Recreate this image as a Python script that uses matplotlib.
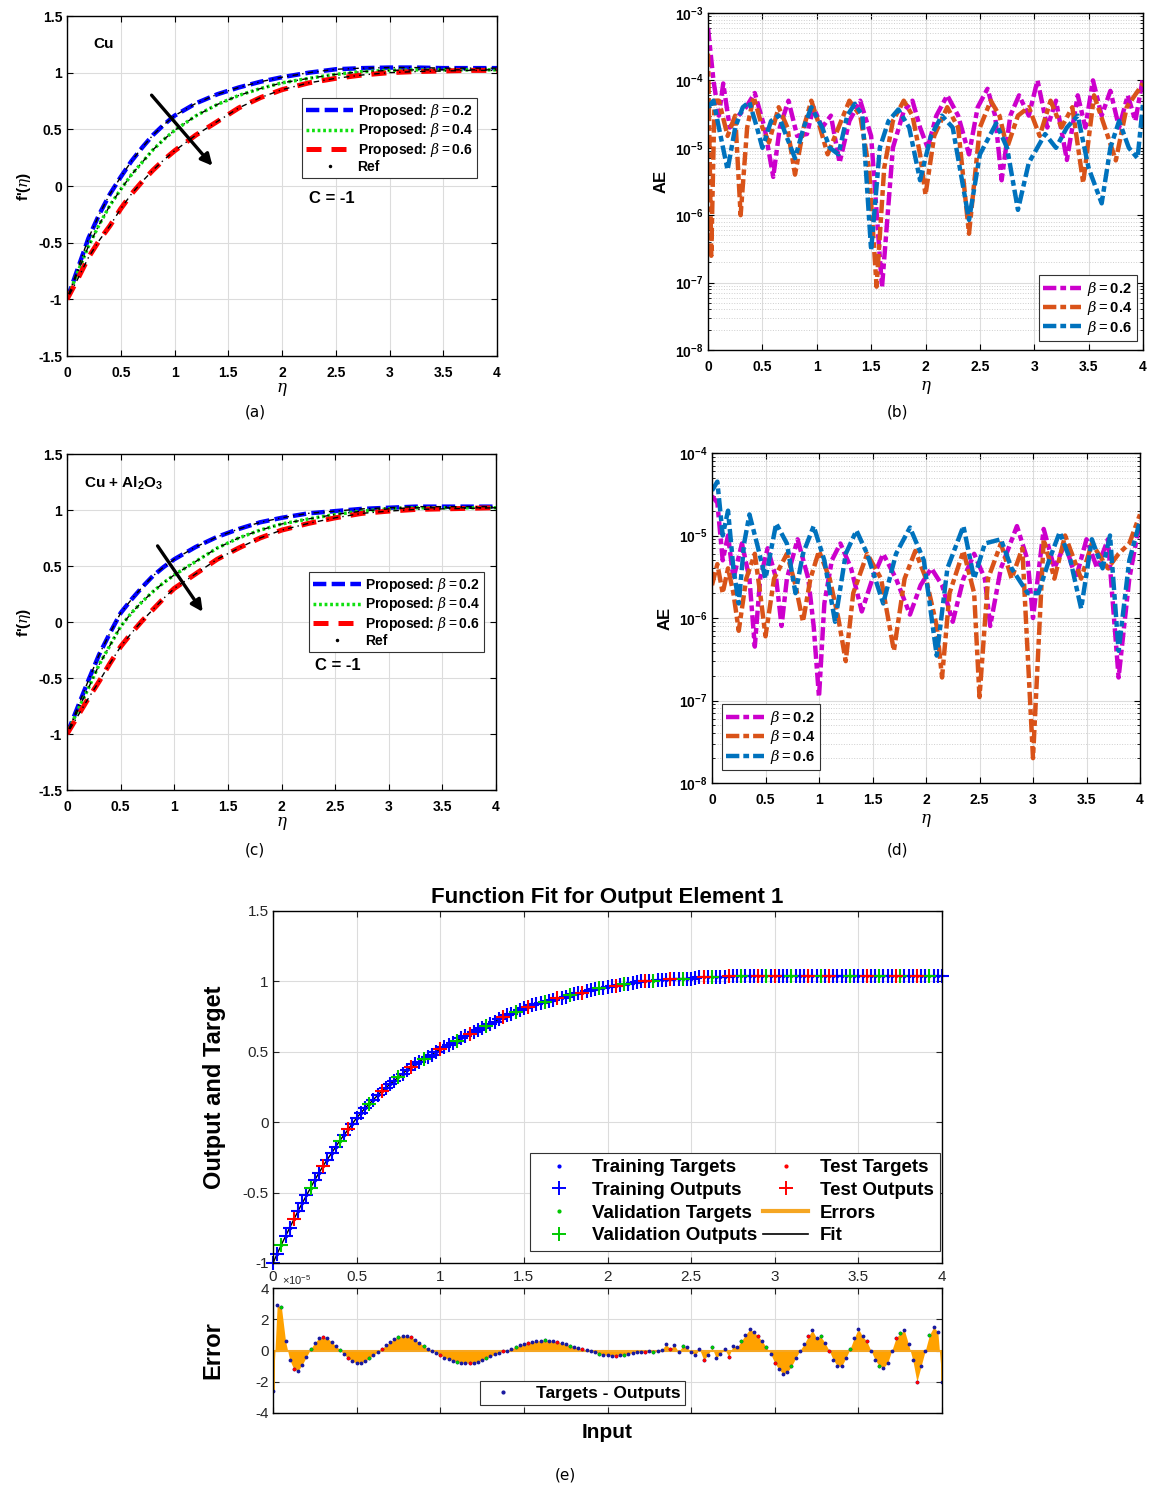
import matplotlib
matplotlib.use('Agg')
import matplotlib.pyplot as plt
import numpy as np
from matplotlib.lines import Line2D
from matplotlib.ticker import LogLocator, NullFormatter

plt.rcParams['font.family'] = ['Liberation Sans', 'DejaVu Sans']
plt.rcParams['mathtext.fontset'] = 'custom'
plt.rcParams['mathtext.rm'] = 'Liberation Sans'
plt.rcParams['mathtext.bf'] = 'Liberation Sans:bold'
plt.rcParams['mathtext.it'] = 'DejaVu Serif:italic'

# ---------------- data ----------------
# (a) Cu, C = -1
a_eta = [0, 0.1, 0.2, 0.3, 0.4, 0.5, 0.6, 0.7, 0.8, 0.9, 1.0, 1.2, 1.4, 1.6, 1.8,
         2.0, 2.25, 2.5, 2.75, 3.0, 3.25, 3.5, 3.75, 4.0]
a_b02 = [-1, -0.73, -0.46, -0.25, -0.07, 0.08, 0.22, 0.34, 0.45, 0.54, 0.62, 0.73, 0.81,
         0.87, 0.92, 0.96, 1.0, 1.03, 1.04, 1.045, 1.045, 1.04, 1.04, 1.04]
a_b04 = [-1, -0.76, -0.53, -0.34, -0.17, -0.03, 0.1, 0.21, 0.32, 0.41, 0.49, 0.62, 0.72,
         0.8, 0.86, 0.91, 0.95, 0.985, 1.01, 1.02, 1.025, 1.025, 1.025, 1.025]
a_b06 = [-1, -0.82, -0.63, -0.48, -0.35, -0.2, -0.07, 0.04, 0.14, 0.23, 0.31, 0.45, 0.57,
         0.69, 0.78, 0.85, 0.91, 0.95, 0.98, 1.0, 1.01, 1.015, 1.02, 1.02]

# (c) Cu + Al2O3, C = -1
c_b02 = [-1, -0.76, -0.52, -0.29, -0.1, 0.08, 0.2, 0.31, 0.41, 0.49, 0.56, 0.67, 0.76,
         0.83, 0.89, 0.93, 0.97, 0.99, 1.01, 1.02, 1.03, 1.03, 1.03, 1.03]
c_b04 = [-1, -0.79, -0.59, -0.38, -0.21, -0.04, 0.08, 0.18, 0.27, 0.35, 0.42, 0.54, 0.66,
         0.75, 0.82, 0.875, 0.92, 0.96, 0.99, 1.01, 1.02, 1.02, 1.02, 1.02]
c_b06 = [-1, -0.84, -0.68, -0.53, -0.37, -0.22, -0.1, 0.01, 0.11, 0.21, 0.30, 0.43, 0.56,
         0.66, 0.75, 0.82, 0.88, 0.93, 0.97, 0.99, 1.005, 1.01, 1.015, 1.02]

# (b) absolute error, Cu
b_eta_02 = [0, 0.05, 0.1, 0.14, 0.2, 0.28, 0.35, 0.43, 0.52, 0.6, 0.66, 0.74, 0.82, 0.91,
            0.97, 1.05, 1.13, 1.21, 1.3, 1.4, 1.5, 1.6, 1.7, 1.8, 1.88, 1.95, 2.02, 2.1,
            2.2, 2.3, 2.4, 2.48, 2.57, 2.64, 2.7, 2.78, 2.86, 2.95, 3.03, 3.12, 3.2, 3.3,
            3.4, 3.47, 3.54, 3.62, 3.7, 3.78, 3.86, 3.93, 4.0]
b_ae_02 = [6e-4, 1e-4, 3e-5, 9e-5, 2e-5, 3e-5, 4e-5, 6.5e-5, 2e-5, 3.7e-6, 2e-5, 5e-5,
           1.5e-5, 1.6e-5, 4e-5, 2e-5, 3e-5, 6e-6, 2.5e-5, 5e-5, 1.5e-5, 8.5e-8, 1e-5,
           3.5e-5, 5e-5, 2e-5, 1e-5, 3e-5, 6e-5, 3e-5, 8e-6, 4e-5, 7.5e-5, 3e-5, 3.3e-6,
           3e-5, 6e-5, 3e-5, 1e-4, 2e-5, 5e-5, 6.6e-6, 6e-5, 2e-5, 1e-4, 3e-5, 7e-5, 2e-5,
           6e-5, 2.5e-5, 1.1e-4]
b_eta_04 = [0, 0.03, 0.06, 0.1, 0.18, 0.25, 0.3, 0.36, 0.42, 0.5, 0.56, 0.65, 0.73, 0.8,
            0.88, 0.95, 1.03, 1.1, 1.2, 1.3, 1.4, 1.48, 1.55, 1.62, 1.7, 1.8, 1.88, 1.95,
            2.0, 2.08, 2.2, 2.3, 2.4, 2.5, 2.6, 2.68, 2.75, 2.85, 2.95, 3.05, 3.15, 3.25,
            3.35, 3.45, 3.55, 3.65, 3.75, 3.85, 4.0]
b_ae_04 = [2.5e-4, 2.5e-7, 5e-5, 5e-5, 1.5e-5, 3e-5, 1e-6, 2e-5, 5.7e-5, 2e-5, 1.2e-5,
           4e-5, 2e-5, 4e-6, 2e-5, 5e-5, 2e-5, 8e-6, 2e-5, 5e-5, 3e-5, 5e-6, 8.7e-8, 5e-6,
           2.5e-5, 5e-5, 3e-5, 8e-6, 2e-6, 1.5e-5, 4e-5, 2e-5, 5.3e-7, 2e-5, 5e-5, 3e-5,
           1e-5, 3e-5, 4e-5, 1.5e-5, 5e-5, 2e-5, 4e-5, 3e-6, 6e-5, 2e-5, 6.5e-6, 4e-5, 9e-5]
b_eta_06 = [0, 0.05, 0.1, 0.18, 0.25, 0.32, 0.38, 0.45, 0.5, 0.58, 0.65, 0.72, 0.8, 0.88,
            0.95, 1.05, 1.12, 1.2, 1.28, 1.35, 1.42, 1.5, 1.58, 1.66, 1.75, 1.85, 1.95,
            2.05, 2.15, 2.25, 2.4, 2.5, 2.65, 2.75, 2.85, 2.95, 3.1, 3.2, 3.3, 3.4, 3.5,
            3.62, 3.7, 3.78, 3.87, 3.95, 4.0]
b_ae_06 = [4e-5, 5e-5, 2e-5, 4.7e-6, 2e-5, 4e-5, 4.8e-5, 2e-5, 1e-5, 2.5e-5, 3e-5,
           1.5e-5, 7e-6, 2e-5, 4e-5, 2e-5, 1e-5, 8e-6, 3e-5, 4.5e-5, 3e-5, 3e-7, 1e-5,
           2.5e-5, 3.7e-5, 2e-5, 3.3e-6, 1.5e-5, 3e-5, 2e-5, 8.5e-7, 8e-6, 2.3e-5, 1e-5,
           1.2e-6, 6e-6, 1.6e-5, 1e-5, 2e-5, 3e-5, 5e-6, 1.5e-6, 1e-5, 2.5e-5, 1e-5, 7e-6,
           4.5e-5]

# (d) absolute error, Cu + Al2O3
d_eta_02 = [0, 0.05, 0.1, 0.15, 0.2, 0.28, 0.35, 0.4, 0.45, 0.52, 0.6, 0.65, 0.7, 0.8,
            0.9, 0.95, 1.0, 1.05, 1.12, 1.2, 1.3, 1.4, 1.5, 1.6, 1.72, 1.85, 1.95, 2.05,
            2.15, 2.25, 2.35, 2.45, 2.55, 2.6, 2.7, 2.85, 2.95, 3.0, 3.1, 3.2, 3.3, 3.4,
            3.5, 3.6, 3.7, 3.8, 3.9, 4.0]
d_ae_02 = [3e-5, 2.5e-5, 5e-6, 1e-5, 3e-6, 8e-6, 3e-6, 4.5e-7, 3e-6, 7e-6, 3e-6, 8e-7,
           3e-6, 9e-6, 3e-6, 8e-7, 1.1e-7, 1.5e-6, 5e-6, 8e-6, 4e-6, 1.2e-6, 3e-6, 6e-6,
           3e-6, 1.1e-6, 2.5e-6, 4e-6, 2.5e-6, 9e-7, 3e-6, 6e-6, 3e-6, 8e-7, 4e-6, 1.3e-5,
           5e-6, 1e-6, 1.2e-5, 4e-6, 8e-6, 3e-6, 9e-6, 4e-6, 9e-6, 1.9e-7, 3e-6, 1.5e-5]
d_eta_04 = [0, 0.05, 0.1, 0.15, 0.2, 0.25, 0.32, 0.4, 0.45, 0.5, 0.58, 0.7, 0.78, 0.85,
            0.92, 1.0, 1.1, 1.18, 1.25, 1.32, 1.45, 1.58, 1.7, 1.8, 1.9, 2.0, 2.1, 2.15,
            2.22, 2.35, 2.45, 2.5, 2.58, 2.7, 2.8, 2.9, 3.0, 3.1, 3.2, 3.3, 3.45, 3.55,
            3.7, 3.8, 3.9, 4.0]
d_ae_04 = [2.5e-6, 4.5e-6, 2e-6, 4e-6, 2e-6, 7e-7, 3e-6, 6e-6, 2e-6, 6e-7, 3e-6, 6e-6,
           2.5e-6, 9e-7, 3e-6, 6.5e-6, 3e-6, 1e-6, 3e-7, 2e-6, 6e-6, 3e-6, 4e-7, 3e-6,
           6.5e-6, 3e-6, 8e-7, 1.9e-7, 2e-6, 6.5e-6, 2e-6, 1.1e-7, 3e-6, 8e-6, 3e-6, 7e-6,
           2e-8, 9e-6, 3e-6, 1e-5, 3e-6, 8e-6, 4e-6, 6e-6, 8e-6, 1.8e-5]
d_eta_06 = [0, 0.05, 0.1, 0.15, 0.2, 0.25, 0.3, 0.35, 0.42, 0.5, 0.6, 0.7, 0.78, 0.85,
            0.95, 1.05, 1.15, 1.25, 1.35, 1.45, 1.6, 1.72, 1.85, 1.98, 2.1, 2.2, 2.35,
            2.45, 2.55, 2.7, 2.8, 2.95, 3.05, 3.15, 3.25, 3.35, 3.45, 3.55, 3.65, 3.72,
            3.8, 3.9, 4.0]
d_ae_06 = [3.5e-5, 4.5e-5, 1e-5, 2e-5, 4e-6, 1.5e-6, 8e-6, 1.8e-5, 8e-6, 3e-6, 1.4e-5,
           8e-6, 2e-6, 6e-6, 1.3e-5, 5e-6, 9e-7, 6e-6, 1.15e-5, 6e-6, 1.5e-6, 6e-6,
           1.25e-5, 5e-6, 3.5e-7, 4e-6, 1.3e-5, 3e-6, 8e-6, 9e-6, 4e-6, 2e-6, 2e-6, 5e-6,
           1.1e-5, 5e-6, 1.3e-6, 9e-6, 4e-6, 1e-5, 4e-7, 5e-6, 1.5e-5]

# (e) network function fit: outputs on an even input grid 0..4 (step 0.025)
e_f = [-1.0, -0.935, -0.87, -0.81, -0.75, -0.69, -0.63, -0.575, -0.52, -0.465,
       -0.41, -0.36, -0.31, -0.265, -0.22, -0.175, -0.13, -0.09, -0.05, -0.01,
       0.03, 0.065, 0.1, 0.13, 0.16, 0.19, 0.22, 0.245, 0.27, 0.295,
       0.32, 0.345, 0.37, 0.39, 0.41, 0.43, 0.45, 0.465, 0.48, 0.5,
       0.52, 0.535, 0.55, 0.565, 0.58, 0.595, 0.61, 0.625, 0.64, 0.655,
       0.67, 0.685, 0.7, 0.715, 0.73, 0.745, 0.76, 0.77, 0.78, 0.795,
       0.81, 0.82, 0.83, 0.84, 0.85, 0.855, 0.86, 0.87, 0.88, 0.885,
       0.89, 0.9, 0.91, 0.915, 0.92, 0.93, 0.94, 0.945, 0.95, 0.955,
       0.96, 0.965, 0.97, 0.975, 0.98, 0.985, 0.99, 0.995, 1.0, 1.0,
       1.0, 1.005, 1.01, 1.01, 1.01, 1.015, 1.02, 1.02, 1.02, 1.02,
       1.02, 1.025, 1.03, 1.03, 1.03, 1.03, 1.03, 1.03, 1.03, 1.035,
       1.04, 1.04, 1.04, 1.04, 1.04, 1.04, 1.04, 1.04, 1.04, 1.04,
       1.04, 1.04, 1.04, 1.04, 1.04, 1.04, 1.04, 1.04, 1.04, 1.04,
       1.04, 1.04, 1.04, 1.04, 1.04, 1.04, 1.04, 1.04, 1.04, 1.04,
       1.04, 1.04, 1.04, 1.04, 1.04, 1.04, 1.04, 1.04, 1.04, 1.04,
       1.04, 1.04, 1.04, 1.04, 1.04, 1.04, 1.04, 1.04, 1.04, 1.04,
       1.04]
# data split per sample: T = training, V = validation, S = test
e_split = ("TTVTTSTTTV" "TTSTTTVTST" "TTTVTTSTTT" "VTTSTTVTTT"
           "STTTVTTSTT" "TVTTTSTTVT" "TSTTTVTTST" "TVTTSTTTVT"
           "TTSTVTTTTS" "TVTTTSTTVT" "TTTSTVTTTS" "TTVTTTSTVT"
           "STTTVTTTST" "TVTSTTTTVT" "TTSTTVTTTS" "VTTTSTTVTT" "T")
# errors (x 1e-5) on the same grid
e_err = [-2.6, 2.9, 2.8, 0.6, -0.6, -1.2, -1.3, -0.9, -0.4, 0.1,
         0.5, 0.8, 0.85, 0.8, 0.55, 0.3, 0.05, -0.25, -0.5, -0.7,
         -0.8, -0.8, -0.7, -0.5, -0.3, -0.1, 0.1, 0.35, 0.55, 0.75,
         0.88, 0.95, 0.93, 0.85, 0.7, 0.5, 0.3, 0.1, 0.0, -0.15,
         -0.3, -0.45, -0.55, -0.65, -0.72, -0.78, -0.8, -0.8, -0.78, -0.72,
         -0.62, -0.5, -0.38, -0.25, -0.15, -0.05, 0.0, 0.1, 0.22, 0.33,
         0.42, 0.5, 0.56, 0.6, 0.63, 0.65, 0.63, 0.6, 0.55, 0.48,
         0.4, 0.32, 0.23, 0.15, 0.08, 0.02, -0.05, -0.12, -0.2, -0.26,
         -0.3, -0.32, -0.32, -0.3, -0.26, -0.2, -0.15, -0.1, -0.08, -0.1,
         -0.05, -0.12, -0.05, 0.05, 0.4, 0.1, 0.35, -0.1, 0.3, 0.2,
         -0.1, -0.3, 0.1, -0.6, -0.3, 0.2, -0.5, -0.2, 0.1, -0.4,
         0.3, 0.2, 0.6, 1.0, 1.35, 1.2, 0.9, 0.6, 0.2, -0.2,
         -0.8, -1.2, -1.5, -1.4, -1.0, -0.5, 0.0, 0.4, 0.9, 1.3,
         0.8, 0.9, 0.5, 0.0, -0.6, -1.0, -1.0, -0.5, 0.1, 0.8,
         1.4, 0.9, 0.6, 0.0, -0.6, -1.0, -1.1, -0.8, 0.0, 0.8,
         1.1, 1.3, 0.4, -0.6, -2.0, -1.0, 0.0, 1.0, 1.5, 1.2,
         -2.0]

# ---------------- figure ----------------
W, H = 1153, 1486
fig = plt.figure(figsize=(W / 100, H / 100), dpi=100)


def px_axes(x0, y0, x1, y1):
    return fig.add_axes([x0 / W, 1 - y1 / H, (x1 - x0) / W, (y1 - y0) / H])


def matlab_look(ax, bold=True, size=10):
    ax.tick_params(which='both', direction='in', top=True, right=True, labelsize=size)
    ax.tick_params(which='major', length=4, width=0.8)
    ax.tick_params(which='minor', length=2, width=0.6)
    ax.tick_params(axis='x', pad=7)
    if bold:
        for lab in ax.get_xticklabels() + ax.get_yticklabels():
            lab.set_fontweight('bold')
    ax.grid(True, which='major', color='#dcdcdc', lw=0.8)
    ax.set_axisbelow(True)
    for s in ax.spines.values():
        s.set_linewidth(1.0)


def velocity_panel(rect, b02, b04, b06, text, arrow, leg_anchor, text_pos, c_pos):
    ax = px_axes(*rect)
    ax.plot(a_eta, b02, color='#0000ff', lw=3.2, dashes=(3, 1.2),
            label=r'Proposed: $\beta=$0.2')
    ax.plot(a_eta, b04, color='#10e010', lw=2.5, dashes=(0.8, 0.8),
            label=r'Proposed: $\beta=$0.4')
    ax.plot(a_eta, b06, color='#ff0000', lw=3.6, dashes=(3, 2),
            label=r'Proposed: $\beta=$0.6')
    for ys in (b02, b04, b06):
        ax.plot(a_eta, ys, color='k', lw=1.0, dashes=(1, 3, 4, 3))
    ax.set_xlim(0, 4)
    ax.set_ylim(-1.5, 1.5)
    ax.set_xticks([0, 0.5, 1, 1.5, 2, 2.5, 3, 3.5, 4])
    ax.set_xticklabels(['0', '0.5', '1', '1.5', '2', '2.5', '3', '3.5', '4'])
    ax.set_yticks([-1.5, -1, -0.5, 0, 0.5, 1, 1.5])
    ax.set_yticklabels(['-1.5', '-1', '-0.5', '0', '0.5', '1', '1.5'])
    matlab_look(ax)
    ax.annotate('', xy=arrow[1], xytext=arrow[0],
                arrowprops=dict(arrowstyle='-|>', lw=2.4, color='k', mutation_scale=17))
    ax.text(text_pos[0], text_pos[1], text, fontsize=11, fontweight='bold')
    ax.text(c_pos[0], c_pos[1], 'C = -1', fontsize=12, fontweight='bold')
    handles, labels = ax.get_legend_handles_labels()
    handles.append(Line2D([], [], ls='none', marker='.', color='k', ms=3))
    labels.append('Ref')
    leg = ax.legend(handles, labels, loc='upper right', bbox_to_anchor=leg_anchor,
                    borderaxespad=0, fancybox=False, edgecolor='#333333', framealpha=1,
                    handlelength=3.4, borderpad=0.3, labelspacing=0.1, handletextpad=0.3,
                    prop={'weight': 'bold', 'size': 10})
    leg.get_frame().set_linewidth(0.8)
    ax.set_xlabel(r'$\eta$', fontsize=12, labelpad=1)
    ax.set_ylabel(r"f'($\eta$)", fontsize=11, fontweight='bold', labelpad=4)
    return ax


velocity_panel((67, 16, 497, 356), a_b02, a_b04, a_b06, 'Cu',
               ((0.77, 0.82), (1.37, 0.16)), (0.953, 0.759), (0.25, 1.22), (2.25, -0.15))
velocity_panel((67, 454, 496, 790), c_b02, c_b04, c_b06, r'Cu + Al$_\mathbf{2}$O$_\mathbf{3}$',
               ((0.83, 0.70), (1.28, 0.07)), (0.972, 0.649), (0.16, 1.2), (2.31, -0.43))

ae_colors = ['#cc00cc', '#D95319', '#0072BD']
ae_labels = [r'$\beta=$0.2', r'$\beta=$0.4', r'$\beta=$0.6']


def error_panel(rect, series, ylo, yhi, leg_loc, leg_anchor):
    ax = px_axes(*rect)
    for (xs, ys), col, lab in zip(series, ae_colors, ae_labels):
        ax.plot(xs, ys, color=col, lw=3.2, dashes=(3, 0.9, 1.3, 0.9), label=lab)
    ax.set_yscale('log')
    ax.set_xlim(0, 4)
    ax.set_ylim(10.0 ** ylo, 10.0 ** yhi)
    ax.set_xticks([0, 0.5, 1, 1.5, 2, 2.5, 3, 3.5, 4])
    ax.set_xticklabels(['0', '0.5', '1', '1.5', '2', '2.5', '3', '3.5', '4'])
    exps = list(range(ylo, yhi + 1))
    ax.set_yticks([10.0 ** e for e in exps])
    ax.set_yticklabels([r'$\mathbf{10^{%d}}$' % e for e in exps])
    ax.yaxis.set_minor_locator(LogLocator(base=10, subs=np.arange(2, 10), numticks=20))
    ax.yaxis.set_minor_formatter(NullFormatter())
    matlab_look(ax)
    ax.grid(True, which='minor', axis='y', color='#cfcfcf', lw=0.7, ls=':')
    leg = ax.legend(loc=leg_loc, bbox_to_anchor=leg_anchor, borderaxespad=0,
                    fancybox=False, edgecolor='#333333', framealpha=1, handlelength=2.6,
                    borderpad=0.3, labelspacing=0.1, handletextpad=0.4,
                    prop={'weight': 'bold', 'size': 10.5})
    leg.get_frame().set_linewidth(0.8)
    ax.set_xlabel(r'$\eta$', fontsize=12, labelpad=4)
    ax.set_ylabel('AE', fontsize=12, fontweight='bold', labelpad=4)
    return ax


error_panel((708, 13, 1143, 350),
            [(b_eta_02, b_ae_02), (b_eta_04, b_ae_04), (b_eta_06, b_ae_06)],
            -8, -3, 'lower right', (0.986, 0.027))
error_panel((712, 453, 1140, 783),
            [(d_eta_02, d_ae_02), (d_eta_04, d_ae_04), (d_eta_06, d_ae_06)],
            -8, -4, 'lower left', (0.023, 0.039))

# ---------------- (e) ----------------
split_colors = {'T': '#0000ff', 'V': '#00c800', 'S': '#ff0000'}
e_eta = np.linspace(0, 4, len(e_f))
e_fv = np.array(e_f)
codes = np.array(list(e_split))

ax = px_axes(273, 911, 942, 1263)
ax.plot(e_eta, e_fv, color='k', lw=1.0)
for code in ('T', 'V', 'S'):
    m = codes == code
    ax.plot(e_eta[m], e_fv[m], ls='none', marker='+', color=split_colors[code],
            ms=10, mew=1.5, clip_on=False)
    ax.plot(e_eta[m], e_fv[m], ls='none', marker='.', color=split_colors[code], ms=3)
ax.set_xlim(0, 4)
ax.set_ylim(-1, 1.5)
ax.set_xticks([0, 0.5, 1, 1.5, 2, 2.5, 3, 3.5, 4])
ax.set_xticklabels(['0', '0.5', '1', '1.5', '2', '2.5', '3', '3.5', '4'])
ax.set_yticks([-1, -0.5, 0, 0.5, 1, 1.5])
ax.set_yticklabels(['-1', '-0.5', '0', '0.5', '1', '1.5'])
matlab_look(ax, bold=False, size=11)
ax.tick_params(colors='#262626', labelcolor='#262626', pad=3)
ax.tick_params(axis='x', pad=5)
ax.set_title('Function Fit for Output Element 1', fontsize=16, fontweight='bold', pad=6)
ax.set_ylabel('Output and Target', fontsize=17, fontweight='bold', labelpad=12)
leg_handles = [
    Line2D([], [], ls='none', marker='.', color=split_colors['T'], ms=4),
    Line2D([], [], ls='none', marker='+', color=split_colors['T'], ms=10, mew=1.4),
    Line2D([], [], ls='none', marker='.', color=split_colors['V'], ms=4),
    Line2D([], [], ls='none', marker='+', color=split_colors['V'], ms=10, mew=1.4),
    Line2D([], [], ls='none', marker='.', color=split_colors['S'], ms=4),
    Line2D([], [], ls='none', marker='+', color=split_colors['S'], ms=10, mew=1.4),
    Line2D([], [], color='#f5a623', lw=3),
    Line2D([], [], color='k', lw=1.2),
]
leg_labels = ['Training Targets', 'Training Outputs', 'Validation Targets',
              'Validation Outputs', 'Test Targets', 'Test Outputs', 'Errors', 'Fit']
leg = ax.legend(leg_handles, leg_labels, ncol=2, loc='lower right',
                bbox_to_anchor=(0.997, 0.034), borderaxespad=0, fancybox=False,
                edgecolor='#333333', framealpha=1, handlelength=2.4, borderpad=0.35,
                labelspacing=0.3, columnspacing=0.3, handletextpad=0.6,
                prop={'weight': 'bold', 'size': 13.5})
leg.get_frame().set_linewidth(0.8)

# error subplot
err = np.array(e_err)
err_eta = np.linspace(0, 4, len(e_err))
ax2 = px_axes(273, 1288, 942, 1413)
ax2.fill_between(err_eta, 0, err, color='#ffa200', lw=0)
ax2.axhline(0, color='#f5a623', lw=1.5)
ax2.plot([0, 0], [0, err[0]], color='#ffa200', lw=2)
ax2.plot([4, 4], [0, err[-1]], color='#ffa200', lw=2)
ax2.plot(err_eta, err, ls='none', marker='.', color='#1a1aa0', ms=3.5)
for code in ('V', 'S'):
    m = codes == code
    ax2.plot(err_eta[m], err[m], ls='none', marker='.', color=split_colors[code], ms=3)
ax2.set_xlim(0, 4)
ax2.set_ylim(-4, 4)
ax2.set_xticks([0, 0.5, 1, 1.5, 2, 2.5, 3, 3.5, 4])
ax2.set_xticklabels([])
ax2.set_yticks([-4, -2, 0, 2, 4])
ax2.set_yticklabels(['-4', '-2', '0', '2', '4'])
matlab_look(ax2, bold=False, size=11)
ax2.tick_params(colors='#262626', labelcolor='#262626', pad=3)
ax2.text(0.013, 1.005, r'$\times10^{-5}$', transform=ax2.transAxes, fontsize=8,
         color='#262626', va='bottom', ha='left')
ax2.set_ylabel('Error', fontsize=17, fontweight='bold', labelpad=22)
ax2.set_xlabel('Input', fontsize=15, fontweight='bold', labelpad=4)
leg2 = ax2.legend([Line2D([], [], ls='none', marker='.', color='#1a1aa0', ms=4)],
                  ['Targets - Outputs'], loc='lower left', bbox_to_anchor=(0.309, 0.064),
                  borderaxespad=0, fancybox=False, edgecolor='#333333', framealpha=1,
                  handlelength=2.2, borderpad=0.25, prop={'weight': 'bold', 'size': 12.5})
leg2.get_frame().set_linewidth(0.8)

# panel captions
for x, y, s in [(255, 412, '(a)'), (898, 412, '(b)'), (255, 850, '(c)'),
                (898, 850, '(d)'), (565, 1475, '(e)')]:
    fig.text(x / W, 1 - y / H, s, ha='center', va='center', fontsize=11,
             family='DejaVu Sans')

fig.savefig('out.png', dpi=100)
